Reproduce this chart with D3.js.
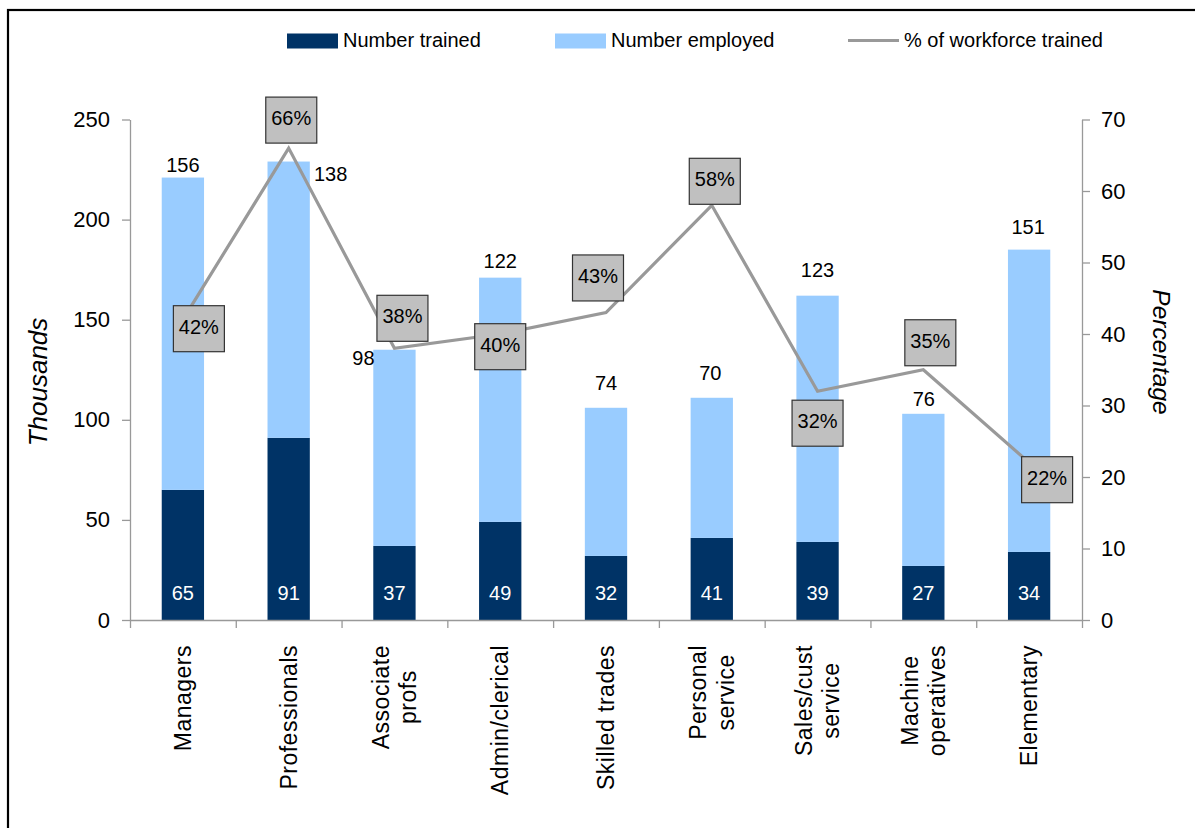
<!DOCTYPE html>
<html>
<head>
<meta charset="utf-8">
<script src="https://cdn.jsdelivr.net/npm/d3@7"></script>
<style>
  html, body { margin: 0; padding: 0; background: #fff; }
  svg { display: block; }
  text { font-family: "Liberation Sans", Arial, sans-serif; fill: #000; }
</style>
</head>
<body>
<svg id="chart" width="1195" height="828"></svg>
<script>
// Training by occupation (thousands) and share of workforce trained
const categories = ["Managers", "Professionals", "Associate\nprofs", "Admin/clerical",
  "Skilled trades", "Personal\nservice", "Sales/cust\nservice", "Machine\noperatives", "Elementary"];
const numberTrained  = [65, 91, 37, 49, 32, 41, 39, 27, 34];
const numberEmployed = [156, 138, 98, 122, 74, 70, 123, 76, 151];
const pctTrained     = [42, 66, 38, 40, 43, 58, 32, 35, 22];
const leftTicks  = [0, 50, 100, 150, 200, 250];
const rightTicks = [0, 10, 20, 30, 40, 50, 60, 70];
const seriesNames = ["Number trained", "Number employed", "% of workforce trained"];

// label nudges (px) relative to each mark
const employedLabelNudge = [[0,-5.5],[42,19],[-31,15.5],[0,-10],[0,-17.5],[-1.5,-17.5],[0,-18.5],[0.5,-7.5],[-1,-16]];
const pctBoxNudge = [[16,9],[2.6,-28],[8,-30],[0,12.7],[-8,-34.6],[3,-24],[0,32],[7,-27],[18,17]];

const colTrained = "#003366", colEmployed = "#99CCFF", colLine = "#999999", colAxis = "#999999";

const svg = d3.select("#chart");
const plotLeft = 130, plotRight = 1082, plotTop = 119.5, plotBottom = 620;

// outer frame
svg.append("rect").attr("x", 8).attr("y", 10).attr("width", 1200).attr("height", 840)
  .attr("fill", "none").attr("stroke", "#000").attr("stroke-width", 2.2);

const rows = categories.map((c, i) => ({ cat: c, trained: numberTrained[i], employed: numberEmployed[i], pct: pctTrained[i] }));

const x = d3.scaleBand().domain(categories).range([plotLeft, plotRight]).paddingInner(0.6).paddingOuter(0.3);
const xEdge = d3.scaleLinear().domain([0, categories.length]).range([plotLeft, plotRight]);
const yL = d3.scaleLinear().domain([0, 250]).range([plotBottom, plotTop]);
const yR = d3.scaleLinear().domain([0, 70]).range([plotBottom, plotTop]);

const stack = d3.stack().keys(["trained", "employed"]);
const stacked = stack(rows);
const colors = { trained: colTrained, employed: colEmployed };

// bars
svg.append("g").selectAll("g").data(stacked).join("g")
  .attr("fill", s => colors[s.key])
  .selectAll("rect").data(s => s).join("rect")
  .attr("x", d => x(d.data.cat))
  .attr("width", x.bandwidth())
  .attr("y", d => yL(d[1]))
  .attr("height", d => yL(d[0]) - yL(d[1]));

// axes
function styleAxis(g) {
  g.selectAll("path, line").attr("stroke", colAxis).attr("stroke-width", 1.3);
}
const gL = svg.append("g").attr("transform", `translate(${plotLeft},0)`)
  .call(d3.axisLeft(yL).tickValues(leftTicks).tickSize(8).tickSizeOuter(0).tickPadding(12))
  .call(styleAxis);
gL.selectAll("text").style("font-size", "22px").style("font-family", "'Liberation Sans', Arial, sans-serif").attr("fill", "#000");

const gR = svg.append("g").attr("transform", `translate(${plotRight},0)`)
  .call(d3.axisRight(yR).tickValues(rightTicks).tickSize(8).tickSizeOuter(0).tickPadding(11))
  .call(styleAxis);
gR.selectAll("text").style("font-size", "22px").style("font-family", "'Liberation Sans', Arial, sans-serif").attr("fill", "#000");

const gB = svg.append("g").attr("transform", `translate(0,${plotBottom})`)
  .call(d3.axisBottom(xEdge).tickValues(d3.range(categories.length + 1)).tickFormat("").tickSize(8).tickSizeOuter(0))
  .call(styleAxis);

// category labels, rotated, ending just below the axis
const catG = svg.append("g");
categories.forEach(c => {
  const lines = c.split("\n");
  const n = lines.length;
  const t = catG.append("text")
    .attr("text-anchor", "middle")
    .style("font-size", "23px")
    .style("letter-spacing", "0.5px");
  lines.forEach((ln, j) => {
    t.append("tspan").attr("x", 0).attr("y", 0)
      .attr("dy", `${(j - (n - 1) / 2) * 1.2 + 0.35}em`).text(ln);
  });
  const maxLen = d3.max(t.selectAll("tspan").nodes(), nd => nd.getComputedTextLength());
  const cx = x(c) + x.bandwidth() / 2;
  t.attr("transform", `translate(${cx},${plotBottom + 25 + maxLen / 2}) rotate(-90)`);
});

// value labels: trained (inside, white) and employed (above bar)
svg.append("g").selectAll("text").data(rows).join("text")
  .attr("x", d => x(d.cat) + x.bandwidth() / 2)
  .attr("y", yL(0) - 20)
  .attr("text-anchor", "middle")
  .attr("fill", "#fff").style("fill", "#fff")
  .style("font-size", "20px")
  .text(d => d.trained);

svg.append("g").selectAll("text").data(rows).join("text")
  .attr("x", (d, i) => x(d.cat) + x.bandwidth() / 2 + employedLabelNudge[i][0])
  .attr("y", (d, i) => yL(d.trained + d.employed) + employedLabelNudge[i][1])
  .attr("text-anchor", "middle")
  .style("font-size", "20px")
  .text(d => d.employed);

// percentage line
const line = d3.line().x(d => x(d.cat) + x.bandwidth() / 2).y(d => yR(d.pct));
svg.append("path").datum(rows).attr("d", line)
  .attr("fill", "none").attr("stroke", colLine).attr("stroke-width", 3.2).attr("stroke-linejoin", "miter");

// percentage label boxes
const boxW = 51, boxH = 46;
const boxes = svg.append("g").selectAll("g").data(rows).join("g")
  .attr("transform", (d, i) => `translate(${x(d.cat) + x.bandwidth() / 2 + pctBoxNudge[i][0]},${yR(d.pct) + pctBoxNudge[i][1]})`);
boxes.append("rect").attr("x", -boxW / 2).attr("y", -boxH / 2).attr("width", boxW).attr("height", boxH)
  .attr("fill", "#C0C0C0").attr("stroke", "#333").attr("stroke-width", 1.2);
boxes.append("text").attr("text-anchor", "middle").attr("y", 5)
  .style("font-size", "20px").text(d => d.pct + "%");

// axis titles
svg.append("text").attr("transform", "translate(47,382) rotate(-90)")
  .attr("text-anchor", "middle").style("font-size", "26px").style("font-style", "italic")
  .text("Thousands");
svg.append("text").attr("transform", "translate(1153,352) rotate(90)")
  .attr("text-anchor", "middle").style("font-size", "24.5px").style("font-style", "italic")
  .text("Percentage");

// legend
const legend = svg.append("g");
const legendItems = [
  { name: seriesNames[0], type: "rect", color: colTrained, x: 287, tx: 343 },
  { name: seriesNames[1], type: "rect", color: colEmployed, x: 555, tx: 611 },
  { name: seriesNames[2], type: "line", color: colLine, x: 848, tx: 904 }
];
legendItems.forEach(it => {
  if (it.type === "rect") {
    legend.append("rect").attr("x", it.x).attr("y", 33.5).attr("width", 51).attr("height", 15).attr("fill", it.color);
  } else {
    legend.append("line").attr("x1", it.x).attr("x2", it.x + 51).attr("y1", 40.5).attr("y2", 40.5)
      .attr("stroke", it.color).attr("stroke-width", 3.2);
  }
  legend.append("text").attr("x", it.tx).attr("y", 47).style("font-size", "20px").text(it.name);
});
</script>
</body>
</html>
